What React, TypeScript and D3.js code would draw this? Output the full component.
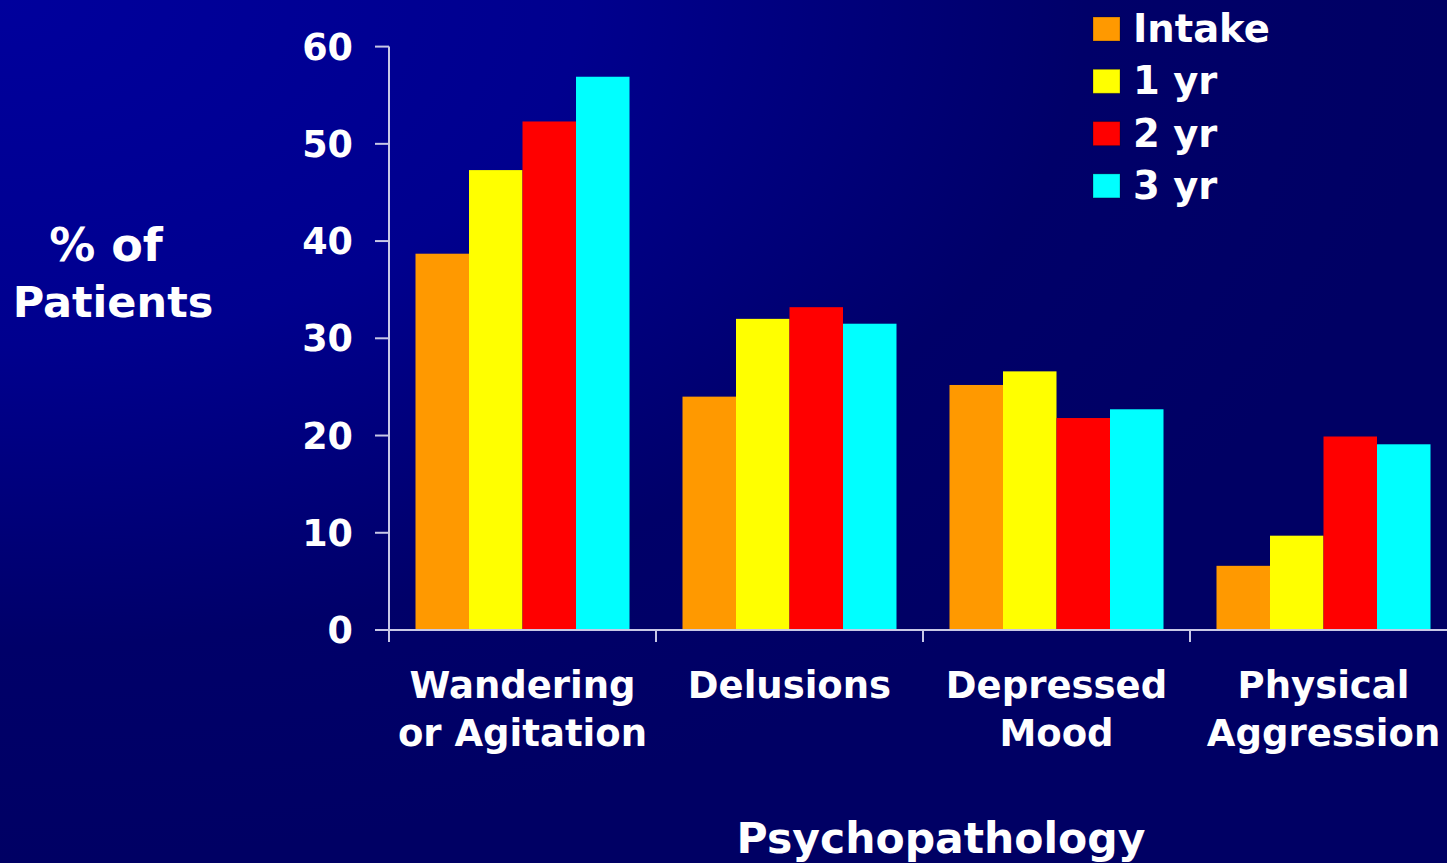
import React from "react";
import * as d3 from "d3";

const categories = [["Wandering", "or Agitation"], ["Delusions"], ["Depressed", "Mood"], ["Physical", "Aggression"]];
const seriesNames = ["Intake", "1 yr", "2 yr", "3 yr"];
const seriesColors = ["#ff9900", "#ffff00", "#ff0000", "#00ffff"];
const intake = [38.7, 24.0, 25.2, 6.6];
const year1 = [47.3, 32.0, 26.6, 9.7];
const year2 = [52.3, 33.2, 21.8, 19.9];
const year3 = [56.9, 31.5, 22.7, 19.1];
const yTicks = [0, 10, 20, 30, 40, 50, 60];

const W = 1447;
const H = 863;
const FONT = "'DejaVu Sans', Verdana, sans-serif";

export default function App() {
  const series = [intake, year1, year2, year3];
  const x0 = d3.scaleBand<number>().domain(d3.range(categories.length)).range([389, 389 + 267 * 4]).paddingInner(0).paddingOuter(0);
  const x1 = d3.scaleBand<number>().domain(d3.range(series.length)).range([26.5, 267 - 26.5]).padding(0);
  const y = d3.scaleLinear().domain([0, 60]).range([630, 46.6]);
  const axisColor = "#c8c8e6";

  return (
    <svg width={W} height={H} style={{ position: "absolute", left: 0, top: 0, display: "block" }}>
      <defs>
        <radialGradient id="bg" cx="0" cy="0" r="1" fx="0" fy="0">
          <stop offset="0" stopColor="#00009c" />
          <stop offset="0.4" stopColor="#00008e" />
          <stop offset="0.75" stopColor="#000069" />
          <stop offset="1" stopColor="#000064" />
        </radialGradient>
      </defs>
      <rect x={0} y={0} width={W} height={H} fill="url(#bg)" />

      {/* bars */}
      {categories.map((_, ci) =>
        series.map((s, si) => (
          <rect
            key={`${ci}-${si}`}
            x={x0(ci)! + x1(si)!}
            y={y(s[ci])}
            width={x1.bandwidth()}
            height={y(0) - y(s[ci])}
            fill={seriesColors[si]}
          />
        ))
      )}

      {/* y axis */}
      <line x1={389} x2={389} y1={y(60)} y2={y(0) + 12} stroke={axisColor} strokeWidth={2} />
      {yTicks.map((t) => (
        <g key={t}>
          <line x1={375} x2={389} y1={y(t)} y2={y(t)} stroke={axisColor} strokeWidth={2} />
          <text x={353} y={y(t)} dy="0.36em" textAnchor="end" fill="#fff" fontFamily={FONT} fontWeight="bold" fontSize={36.5}>
            {t}
          </text>
        </g>
      ))}

      {/* x axis */}
      <line x1={375} x2={W} y1={y(0)} y2={y(0)} stroke={axisColor} strokeWidth={2} />
      {d3.range(1, categories.length).map((i) => (
        <line key={i} x1={x0(i)!} x2={x0(i)!} y1={y(0)} y2={y(0) + 12} stroke={axisColor} strokeWidth={2} />
      ))}
      {categories.map((lines, ci) => (
        <text key={ci} x={x0(ci)! + x0.bandwidth() / 2} y={698} textAnchor="middle" fill="#fff" fontFamily={FONT} fontWeight="bold" fontSize={37}>
          {lines.map((l, li) => (
            <tspan key={li} x={x0(ci)! + x0.bandwidth() / 2} dy={li === 0 ? 0 : 48}>
              {l}
            </tspan>
          ))}
        </text>
      ))}

      {/* axis titles */}
      <text x={107} y={261} textAnchor="middle" fill="#fff" fontFamily={FONT} fontWeight="bold" fontSize={43}>
        <tspan x={106} fontSize={46}>% of</tspan>
        <tspan x={113} dy={56}>Patients</tspan>
      </text>
      <text x={941} y={853} textAnchor="middle" fill="#fff" fontFamily={FONT} fontWeight="bold" fontSize={42.5}>
        Psychopathology
      </text>

      {/* legend */}
      {seriesNames.map((name, i) => (
        <g key={name} transform={`translate(1093, ${17 + i * 52.3})`}>
          <rect x={0} y={0} width={27} height={24} fill={seriesColors[i]} stroke="rgba(0,0,0,0.25)" strokeWidth={1} />
          <text x={40} y={25} fill="#fff" fontFamily={FONT} fontWeight="bold" fontSize={38.5}>
            {name}
          </text>
        </g>
      ))}
    </svg>
  );
}
